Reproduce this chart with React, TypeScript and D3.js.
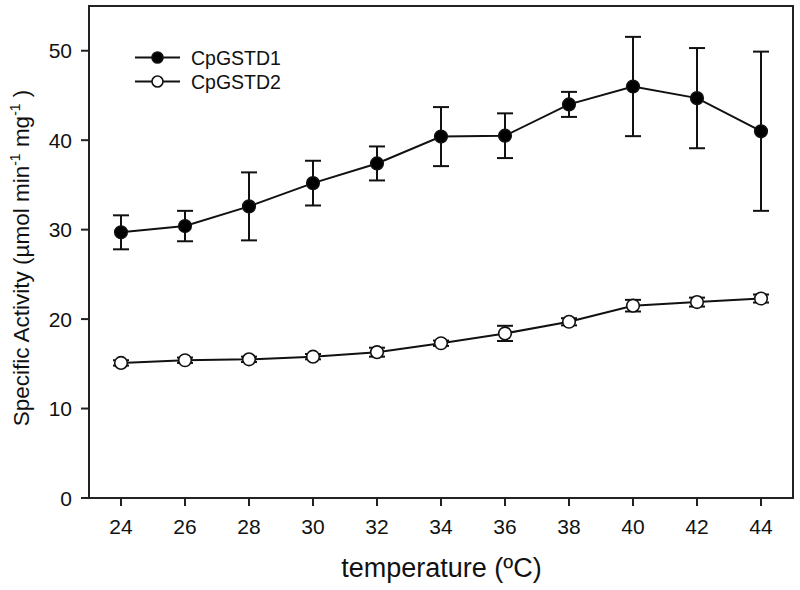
import React from "react";
import * as d3 from "d3";

const temps = [24, 26, 28, 30, 32, 34, 36, 38, 40, 42, 44];
const d1Mean = [29.7, 30.4, 32.6, 35.2, 37.4, 40.4, 40.5, 44.0, 46.0, 44.7, 41.0];
const d1Err = [1.9, 1.7, 3.8, 2.5, 1.9, 3.3, 2.5, 1.4, 5.55, 5.6, 8.9];
const d2Mean = [15.1, 15.4, 15.5, 15.8, 16.3, 17.3, 18.4, 19.7, 21.5, 21.9, 22.3];
const d2Err = [0.3, 0.3, 0.3, 0.3, 0.5, 0.3, 0.85, 0.4, 0.65, 0.5, 0.45];
const xTicks = [24, 26, 28, 30, 32, 34, 36, 38, 40, 42, 44];
const yTicks = [0, 10, 20, 30, 40, 50];
const seriesNames = ["CpGSTD1", "CpGSTD2"];

const FONT = "'Liberation Sans', Arial, Helvetica, sans-serif";

export default function App() {
  const left = 89, right = 793, top = 6, bottom = 498;
  const x = d3.scaleLinear().domain([23, 45]).range([left, right]);
  const y = d3.scaleLinear().domain([0, 55]).range([bottom, top]);

  const series = [
    { name: seriesNames[0], mean: d1Mean, err: d1Err, fill: "#000" },
    { name: seriesNames[1], mean: d2Mean, err: d2Err, fill: "#fff" },
  ];

  const line = d3
    .line<number>()
    .x((_, i) => x(temps[i]))
    .y((d) => y(d));

  const cap = 8;

  return (
    <svg
      width={800}
      height={590}
      style={{ position: "absolute", left: 0, top: 0, background: "#fff" }}
      fontFamily={FONT}
    >
      <rect x={0} y={0} width={800} height={590} fill="#fff" />
      <rect
        x={left}
        y={top}
        width={right - left}
        height={bottom - top}
        fill="none"
        stroke="#222"
        strokeWidth={2}
      />
      {yTicks.map((t) => (
        <g key={"y" + t}>
          <line x1={left - 8} x2={left} y1={y(t)} y2={y(t)} stroke="#222" strokeWidth={2} />
          <text x={72} y={y(t)} dy="0.36em" textAnchor="end" fontSize={21} fill="#111">
            {t}
          </text>
        </g>
      ))}
      {xTicks.map((t) => (
        <g key={"x" + t}>
          <line x1={x(t)} x2={x(t)} y1={bottom} y2={bottom + 8} stroke="#222" strokeWidth={2} />
          <text x={x(t)} y={533.5} textAnchor="middle" fontSize={21} fill="#111">
            {t}
          </text>
        </g>
      ))}
      <text x={441.5} y={577} textAnchor="middle" fontSize={27} fill="#111">
        temperature (ºC)
      </text>
      <text transform="translate(29,258) rotate(-90)" textAnchor="middle" fontSize={22.5} fill="#111">
        Specific Activity (µmol min
        <tspan dy={-9} fontSize={14}>-1</tspan>
        <tspan dy={9}> mg</tspan>
        <tspan dy={-9} fontSize={14}>-1</tspan>
        <tspan dy={9}> )</tspan>
      </text>
      {series.map((s) => (
        <g key={s.name}>
          <path d={line(s.mean) || ""} fill="none" stroke="#111" strokeWidth={2} />
          {s.mean.map((m, i) => {
            const cx = x(temps[i]);
            const y1 = y(m + s.err[i]);
            const y2 = y(m - s.err[i]);
            return (
              <g key={i} stroke="#111" strokeWidth={2}>
                <line x1={cx} x2={cx} y1={y1} y2={y2} />
                <line x1={cx - cap} x2={cx + cap} y1={y1} y2={y1} />
                <line x1={cx - cap} x2={cx + cap} y1={y2} y2={y2} />
              </g>
            );
          })}
          {s.mean.map((m, i) => (
            <circle
              key={"c" + i}
              cx={x(temps[i])}
              cy={y(m)}
              r={6.3}
              fill={s.fill}
              stroke="#111"
              strokeWidth={1.6}
            />
          ))}
        </g>
      ))}
      {series.map((s, i) => {
        const ly = 57.5 + i * 24;
        return (
          <g key={"lg" + s.name}>
            <line x1={135} x2={180} y1={ly} y2={ly} stroke="#111" strokeWidth={2} />
            <circle cx={157.5} cy={ly} r={5.5} fill={s.fill} stroke="#111" strokeWidth={1.6} />
            <text x={191} y={ly} dy="0.36em" fontSize={19.5} fill="#111">
              {s.name}
            </text>
          </g>
        );
      })}
    </svg>
  );
}
